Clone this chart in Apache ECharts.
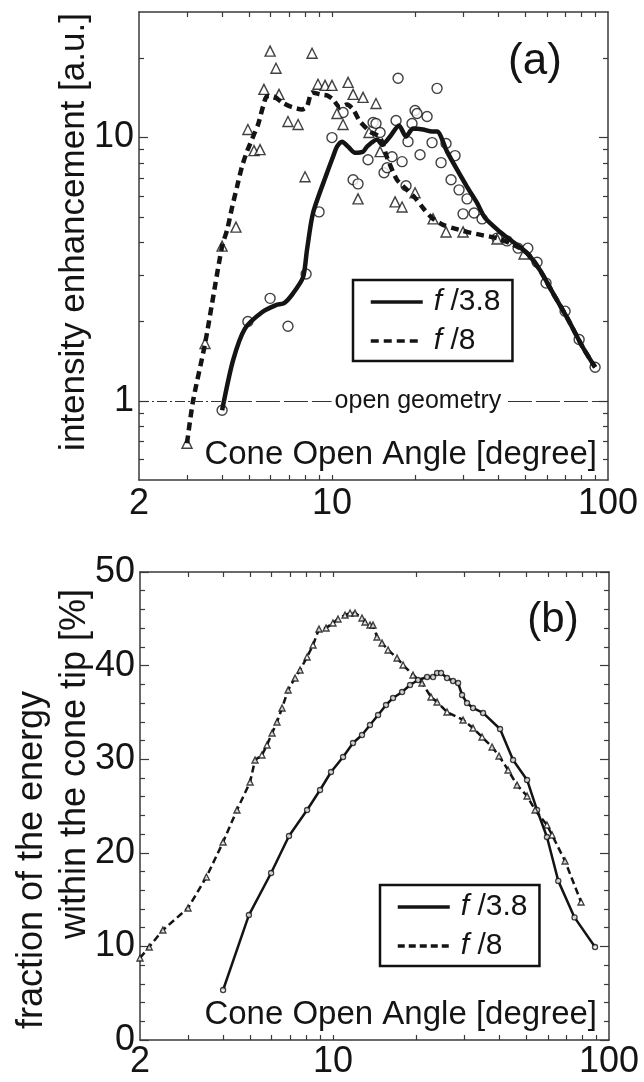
<!DOCTYPE html>
<html>
<head>
<meta charset="utf-8">
<script src="https://cdn.jsdelivr.net/npm/echarts@6/dist/echarts.min.js"></script>
<style>
  html, body { margin: 0; padding: 0; background: #fff; }
  #chart { width: 644px; height: 1082px; }
</style>
</head>
<body>
<div id="chart"></div>
<script>
// ---- data ----
const xLabelVals = [2, 10, 100];
const xTickVals = [3, 4, 5, 6, 7, 8, 9, 10, 20, 30, 40, 50, 60, 70, 80, 90];
const yLabelValsA = [1, 10];
const yMinorValsA = [0.6, 0.7, 0.8, 0.9, 2, 3, 4, 5, 6, 7, 8, 9, 20];

// (a) smoothed curves [angle, enhancement]
const curveA38 = [[4.0,0.92],[4.38,1.42],[4.84,1.88],[5.58,2.17],[6.27,2.31],[6.71,2.35],[7.23,2.56],[7.86,2.95],[8.12,3.74],[8.54,5.17],[9.6,7.35],[10.09,8.46],[10.43,9.24],[10.88,9.65],[11.44,9.24],[12.12,8.76],[12.96,8.84],[13.4,9.24],[14.57,9.83],[15.19,9.4],[16.24,10.09],[17.5,11.11],[18.55,10.09],[19.67,10.82],[21.38,10.73],[23.05,10.54],[24.03,10.54],[26.12,8.84],[28.4,7.55],[30.86,6.5],[33.54,5.65],[35.86,4.95],[40.64,4.38],[45.31,4.01],[50.91,3.64],[56.74,3.13],[63.24,2.56],[71.08,2.07],[81.22,1.59],[89.8,1.34]];
const curveA8 = [[2.985,0.69],[3.14,1.0],[3.47,1.65],[4.0,3.87],[4.17,4.45],[4.35,5.45],[4.53,6.5],[4.72,7.75],[4.92,8.84],[5.18,10.09],[5.4,11.21],[5.63,13.13],[5.82,14.34],[6.12,14.34],[6.59,13.6],[7.05,13.13],[7.79,12.79],[8.12,13.13],[8.47,14.85],[9.05,14.59],[9.6,14.46],[10.09,13.96],[10.7,13.02],[11.34,13.36],[11.93,12.79],[12.64,11.51],[13.74,10.54],[14.94,10.0],[15.84,8.39],[17.21,6.91],[18.71,6.33],[20.0,5.9],[21.38,5.4],[23.05,4.95],[25.26,4.66],[27.47,4.53],[30.86,4.38],[34.98,4.26],[39.63,4.15],[44.19,3.97],[48.0,3.8],[52.2,3.55],[56.74,3.13],[63.24,2.56],[71.08,2.07],[81.22,1.59],[89.8,1.34]];
// (a) measured points
const pointsA38 = [[4.0,0.92],[4.96,2.0],[5.97,2.45],[6.93,1.92],[8.06,3.03],[8.98,5.22],[10.0,10.0],[10.97,12.46],[11.93,6.91],[12.43,6.67],[13.51,8.24],[14.09,11.41],[14.44,11.31],[14.94,10.45],[15.44,7.35],[15.84,7.68],[16.51,8.46],[17.07,11.61],[17.36,16.8],[17.95,8.1],[18.55,6.56],[18.86,9.65],[19.5,11.31],[20.0,12.68],[20.33,12.35],[20.85,8.61],[22.11,12.03],[23.05,9.57],[24.03,15.38],[24.85,8.03],[25.9,9.49],[27.01,6.91],[27.92,8.54],[28.87,6.33],[29.85,5.13],[30.86,5.85],[32.72,5.17],[34.98,4.91],[39.63,4.15],[43.09,4.05],[47.23,3.8],[51.24,3.8],[55.34,3.36],[59.64,2.8],[69.91,2.19],[78.6,1.71],[89.8,1.34]];
const pointsA8 = [[2.985,0.69],[3.47,1.65],[4.0,3.87],[4.49,4.57],[4.96,10.73],[5.22,8.92],[5.49,9.0],[5.67,15.25],[5.97,21.3],[6.27,18.34],[6.43,14.59],[6.93,11.51],[7.54,11.21],[7.99,7.1],[8.47,20.92],[8.9,15.94],[9.44,15.79],[10.0,15.79],[10.43,12.35],[10.97,11.21],[11.44,16.21],[11.93,14.59],[12.43,5.85],[12.96,14.21],[13.62,10.45],[14.44,13.48],[14.94,8.84],[16.93,5.7],[17.95,5.45],[20.0,6.17],[23.24,4.91],[25.9,4.38],[29.85,4.38],[39.63,4.12],[49.65,3.61]];

// (b) energy fraction [angle, %]
const curveB38 = [[4.0,5.34],[4.96,13.35],[5.97,17.84],[6.93,21.79],[8.06,24.57],[8.98,26.71],[9.84,28.63],[10.88,30.24],[11.82,31.73],[12.74,32.59],[13.62,33.65],[14.57,34.72],[15.57,35.79],[16.51,36.54],[17.8,37.18],[19.02,37.93],[20.33,38.46],[21.93,38.78],[23.05,38.78],[23.84,39.21],[24.64,39.21],[25.9,38.68],[27.23,38.35],[28.4,38.14],[29.36,36.86],[30.6,36.0],[32.17,35.47],[34.98,34.94],[40.3,33.23],[44.93,29.91],[50.49,27.78],[54.88,24.57],[59.6,21.69],[65.5,17.0],[75.0,13.1],[89.0,9.94]];
const curveB8 = [[2.0,8.76],[2.16,9.94],[2.42,11.75],[2.985,14.1],[3.48,17.41],[4.0,21.15],[4.49,24.57],[5.01,27.56],[5.22,29.91],[5.53,30.45],[5.77,31.52],[6.02,32.8],[6.27,33.97],[6.54,35.47],[6.88,37.39],[7.29,38.68],[7.6,39.53],[8.06,40.92],[8.47,42.2],[8.9,43.91],[9.44,44.02],[10.0,44.55],[10.43,44.98],[11.06,45.41],[11.53,45.62],[12.02,45.62],[12.74,45.09],[13.07,44.66],[13.62,44.34],[13.97,44.34],[14.44,43.06],[15.06,42.41],[15.84,41.67],[17.07,40.81],[17.95,40.06],[19.5,39.0],[21.02,38.14],[22.66,36.65],[23.84,36.11],[25.9,35.04],[29.6,34.19],[32.17,33.33],[34.69,32.37],[37.71,31.3],[39.96,30.34],[43.09,28.85],[46.45,27.24],[50.49,26.07],[53.98,24.57],[59.6,22.97],[62.2,21.9],[69.3,19.12],[79.2,14.74]];

const FONT = "'Liberation Sans', Arial, Helvetica, sans-serif";
const INK = '#141414';
const AXIS = '#3a3a3a';
const legendText = { f38a: '{i|f} /3.8', f8a: '{i|f} /8', f38b: '{i|f} /3.8', f8b: '{i|f} /8' };

function legendAt(left, top, names) {
  return {
    left: left, top: top, orient: 'vertical', data: names, selectedMode: false,
    formatter: n => legendText[n],
    itemWidth: 52, itemHeight: 12, itemGap: 9,
    padding: [7, 12, 5, 16],
    borderColor: '#111', borderWidth: 2.5,
    itemStyle: { color: 'rgba(0,0,0,0)', borderWidth: 0, opacity: 0 },
    lineStyle: { width: 3.5 },
    textStyle: {
      fontSize: 30, fontFamily: FONT, color: INK, padding: [0, 0, 0, 6],
      rich: { i: { fontStyle: 'italic', fontSize: 30, fontFamily: FONT, color: INK } }
    }
  };
}

function logX(grid, pos, withLabels, margin) {
  return {
    type: 'log', logBase: 10, gridIndex: grid, position: pos, min: 2, max: 100,
    axisLine: { show: true, onZero: false, lineStyle: { color: AXIS, width: 1.5 } },
    axisTick: { show: true, inside: true, length: 5, customValues: xTickVals, lineStyle: { color: AXIS, width: 1.2 } },
    axisLabel: withLabels ? {
      show: true, customValues: xLabelVals, formatter: v => String(Math.round(v)),
      margin: margin, fontSize: 36, fontFamily: FONT, color: INK
    } : { show: false },
    splitLine: { show: false }
  };
}

function logYA(pos, ticks, len, withLabels, showLine) {
  return {
    type: 'log', logBase: 10, gridIndex: 0, position: pos, min: 0.5, max: 30,
    axisLine: { show: showLine, onZero: false, lineStyle: { color: AXIS, width: 1.5 } },
    axisTick: { show: true, inside: true, length: len, customValues: ticks, lineStyle: { color: AXIS, width: 1.2 } },
    axisLabel: withLabels ? {
      show: true, customValues: yLabelValsA, formatter: v => String(Math.round(v)),
      margin: 5, fontSize: 36, fontFamily: FONT, color: INK
    } : { show: false },
    splitLine: { show: false }
  };
}

function linYB(pos, withLabels) {
  return {
    type: 'value', gridIndex: 1, position: pos, min: 0, max: 50, interval: 10,
    axisLine: { show: true, onZero: false, lineStyle: { color: AXIS, width: 1.5 } },
    axisTick: { show: true, inside: true, length: 9, lineStyle: { color: AXIS, width: 1.2 } },
    minorTick: { show: true, splitNumber: 5, length: 5, lineStyle: { color: AXIS, width: 1.2 } },
    axisLabel: withLabels ? { show: true, margin: 5, fontSize: 36, fontFamily: FONT, color: INK } : { show: false },
    splitLine: { show: false }
  };
}

const openMark = { color: '#fff', borderColor: '#111', borderWidth: 1.4 };
const smallMark = { color: '#fff', borderColor: '#111', borderWidth: 1.4 };

const option = {
  animation: false,
  backgroundColor: '#fff',
  grid: [
    { left: 139, top: 12, width: 469, height: 468 },
    { left: 140, top: 572, width: 469, height: 468 }
  ],
  xAxis: [
    logX(0, 'bottom', true, 6),
    logX(0, 'top', false),
    logX(1, 'bottom', true, 4),
    logX(1, 'top', false)
  ],
  yAxis: [
    logYA('left', yLabelValsA, 9, true, true),
    logYA('right', yLabelValsA, 9, false, true),
    logYA('left', yMinorValsA, 5, false, false),
    logYA('right', yMinorValsA, 5, false, false),
    linYB('left', true),
    linYB('right', false)
  ],
  legend: [
    legendAt(353, 280, ['f38a', 'f8a']),
    legendAt(380, 885, ['f38b', 'f8b'])
  ],
  graphic: [
    { type: 'text', x: 535, y: 62, style: { text: '(a)', fontSize: 44, fontFamily: FONT, fill: INK, align: 'center', verticalAlign: 'middle' } },
    { type: 'text', x: 553, y: 620, style: { text: '(b)', fontSize: 42, fontFamily: FONT, fill: INK, align: 'center', verticalAlign: 'middle' } },
    { type: 'text', x: 597, y: 455, style: { text: 'Cone Open Angle [degree]', fontSize: 33, fontFamily: FONT, fill: INK, align: 'right', verticalAlign: 'middle' } },
    { type: 'text', x: 597, y: 1015, style: { text: 'Cone Open Angle [degree]', fontSize: 33, fontFamily: FONT, fill: INK, align: 'right', verticalAlign: 'middle' } },
    { type: 'text', x: 74, y: 232, rotation: Math.PI / 2, style: { text: 'intensity enhancement [a.u.]', fontSize: 35, fontFamily: FONT, fill: INK, align: 'center', verticalAlign: 'middle' } },
    { type: 'text', x: 32, y: 860, rotation: Math.PI / 2, style: { text: 'fraction of the energy', fontSize: 36, fontFamily: FONT, fill: INK, align: 'center', verticalAlign: 'middle' } },
    { type: 'text', x: 75, y: 764, rotation: Math.PI / 2, style: { text: 'within the cone tip [%]', fontSize: 36, fontFamily: FONT, fill: INK, align: 'center', verticalAlign: 'middle' } }
  ],
  series: [
    {
      name: 'pA38', type: 'scatter', xAxisIndex: 0, yAxisIndex: 0, z: 2,
      symbol: 'circle', symbolSize: 10, itemStyle: openMark, data: pointsA38
    },
    {
      name: 'pA8', type: 'scatter', xAxisIndex: 0, yAxisIndex: 0, z: 2,
      symbol: 'triangle', symbolSize: 10, itemStyle: openMark, data: pointsA8
    },
    {
      name: 'f38a', type: 'line', xAxisIndex: 0, yAxisIndex: 0, z: 3,
      smooth: 0.25, symbol: 'none', data: curveA38,
      lineStyle: { color: INK, width: 4.5 }, itemStyle: { color: INK },
      markLine: {
        silent: true, symbol: 'none', animation: false,
        label: { show: false },
        data: [
          [{ coord: [2, 1], lineStyle: { type: [10, 3, 2, 3], color: '#333', width: 1 }, label: { show: false } }, { coord: [4.2, 1] }],
          [{
            coord: [4.2, 1], lineStyle: { type: [24, 4], color: '#333', width: 1 },
            label: { show: true, position: 'middle', formatter: 'open geometry', fontSize: 25, fontFamily: FONT, color: INK, backgroundColor: '#fff', padding: [0, 3], distance: -13 }
          }, { coord: [100, 1] }]
        ]
      }
    },
    {
      name: 'f8a', type: 'line', xAxisIndex: 0, yAxisIndex: 0, z: 3,
      smooth: 0.25, symbol: 'none', data: curveA8,
      lineStyle: { color: INK, width: 4.5, type: [8, 5] }, itemStyle: { color: INK }
    },
    {
      name: 'f38b', type: 'line', xAxisIndex: 2, yAxisIndex: 4, z: 3,
      symbol: 'none', data: curveB38,
      lineStyle: { color: INK, width: 2.5 }, itemStyle: { color: INK }
    },
    {
      name: 'f8b', type: 'line', xAxisIndex: 2, yAxisIndex: 4, z: 3,
      symbol: 'none', data: curveB8,
      lineStyle: { color: INK, width: 2.5, type: [7, 4] }, itemStyle: { color: INK }
    },
    {
      name: 'pB38', type: 'scatter', xAxisIndex: 2, yAxisIndex: 4, z: 4,
      symbol: 'circle', symbolSize: 5, itemStyle: smallMark, data: curveB38
    },
    {
      name: 'pB8', type: 'scatter', xAxisIndex: 2, yAxisIndex: 4, z: 4,
      symbol: 'triangle', symbolSize: 6, itemStyle: smallMark, data: curveB8
    }
  ]
};

const chart = echarts.init(document.getElementById('chart'), null, { renderer: 'canvas' });
chart.setOption(option);
window.onresize = () => {
  chart.resize();
};
</script>
</body>
</html>
